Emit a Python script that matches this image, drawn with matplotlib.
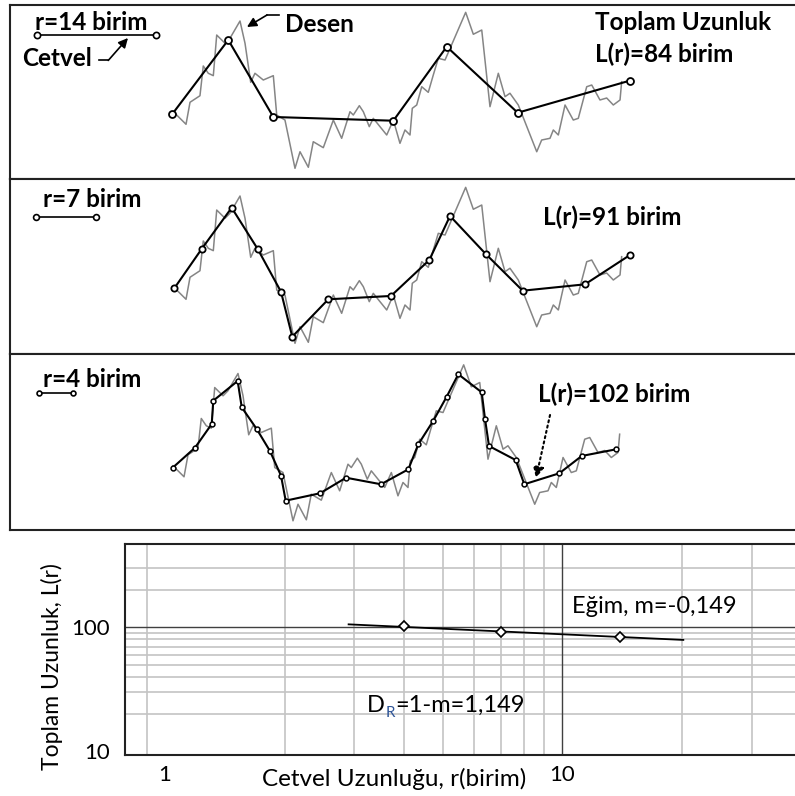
import numpy as np
import matplotlib
matplotlib.use('Agg')
import matplotlib.pyplot as plt

plt.rcParams['font.family'] = ['Lato', 'DejaVu Sans']

# desen (fractal pattern), birim units
desen_x = [0.35, 1.65, 2.12, 3.29, 3.68, 4.27, 4.86, 5.26, 6.24, 6.82, 8.0, 8.59, 9.26, 9.76,
           10.74, 11.92, 12.32, 13.29, 14.47, 15.06, 16.04, 16.62, 17.8, 18.98, 19.96, 20.94,
           21.33, 22.04, 22.51, 23.21, 23.68, 25.26, 26.04, 26.82, 27.41, 28.0, 28.27, 28.79,
           29.38, 30.15, 30.74, 31.33, 32.12, 34.55, 35.45, 36.44, 37.41, 38.39, 39.18, 39.76,
           40.74, 42.91, 43.49, 44.47, 44.86, 45.45, 46.24, 47.21, 47.8, 48.79, 49.38, 50.35,
           51.14, 51.92, 52.71, 52.9]
desen_y = [0.08, -1.21, 1.38, 2.15, 5.65, 4.79, 4.51, 9.29, 8.32, 8.91, 10.94, 8.32, 3.73, 4.79,
           4.0, 4.51, -0.12, -0.71, -6.39, -4.44, -6.27, -3.26, -3.96, -0.71, -2.86, 0.27,
           -0.12, 0.98, 0.27, -1.49, -0.51, -2.47, -0.71, -3.45, -1.88, -2.47, 0.67, 1.06,
           3.21, 2.55, 4.59, 6.55, 6.35, 11.96, 9.38, 9.88, 0.86, 4.79, 2.04, 2.44,
           1.06, -4.44, -3.06, -2.86, -1.88, -2.47, 1.06, -0.71, -0.51, 3.21, 3.41, 1.65,
           1.88, 1.06, 1.65, 3.8]

# cetvel steps for each ruler length
c14_x = [0.04, 6.62, 11.92, 26.04, 32.32, 40.67, 53.85]
c14_y = [0.0, 8.71, -0.35, -0.79, 7.92, 0.15, 3.92]
c7_x = [0.27, 3.49, 7.02, 10.08, 12.82, 14.15, 18.39, 25.76, 30.27, 32.71, 36.91, 41.26, 48.59, 53.88]
c7_y = [0.08, 4.71, 9.56, 4.71, -0.32, -5.61, -1.21, -0.82, 3.41, 8.59, 4.12, -0.2, 0.55, 4.0]
c4_x = [0.32, 2.94, 4.91, 5.09, 7.96, 8.44, 10.2, 11.76, 13.06, 13.61, 17.65, 20.71, 24.82,
        28.04, 29.21, 30.98, 32.55, 33.92, 36.67, 37.06, 37.53, 40.67, 41.68, 45.8, 48.44, 52.47]
c4_y = [-0.14, 2.21, 5.0, 7.74, 10.06, 6.96, 4.41, 1.82, -1.08, -4.02, -3.15, -1.32, -2.09,
        -0.33, 2.61, 5.39, 8.21, 10.85, 8.73, 5.59, 2.41, 0.76, -2.09, -0.8, 1.24, 2.02]

r_vals = [4, 7, 14]
L_vals = [102, 91, 84]
egim = -0.149

W, H = 795, 796
U = 8.5
fig = plt.figure(figsize=(W / 100, H / 100), dpi=100)


def rect(left, top, right, bottom):
    return [left / W, 1 - bottom / H, (right - left) / W, (bottom - top) / H]


def panel(top, bottom, ox, oy):
    ax = fig.add_axes(rect(10, top, 795, bottom))
    ax.set_xlim((10 - ox) / U, (795 - ox) / U)
    ax.set_ylim((oy - bottom) / U, (oy - top) / U)
    ax.set_xticks([])
    ax.set_yticks([])
    ax.spines['right'].set_visible(False)
    for s in ['top', 'left', 'bottom']:
        ax.spines[s].set_linewidth(1.5)
        ax.spines[s].set_color('#222222')
    ax.plot(desen_x, desen_y, color='#858585', lw=1.1, zorder=2)
    return ax


def ruler(ax, x0, y0, r, ms):
    ax.plot([x0, x0 + r], [y0, y0], color='black', lw=1.2, marker='o', ms=ms,
            mfc='white', mec='black', mew=1.2)


bold = dict(fontsize=17.5, fontweight='bold', va='baseline')

# panel 1: r = 14
ax1 = panel(5, 179, 172, 114)
ax1.plot(c14_x, c14_y, color='black', lw=1.5, marker='o', ms=5, mfc='white', mec='black',
         mew=1.3, zorder=3)
ruler(ax1, -15.9, 9.29, r_vals[2], 4.5)
ax1.text(-16.1, 9.88, 'r=14 birim', **bold)
ax1.text(-17.6, 5.65, 'Cetvel', **bold)
ax1.plot([-8.6, -7.5], [6.3, 6.3], color='black', lw=1.2)
ax1.annotate('', xy=(-5.18, 8.94), xytext=(-7.5, 6.3),
             arrowprops=dict(arrowstyle='-|>', color='black', lw=1.2, mutation_scale=14,
                             shrinkA=0, shrinkB=0))
ax1.text(13.29, 9.65, 'Desen', **bold)
ax1.plot([12.6, 11.18], [11.65, 11.65], color='black', lw=1.2)
ax1.annotate('', xy=(8.82, 10.24), xytext=(11.18, 11.65),
             arrowprops=dict(arrowstyle='-|>', color='black', lw=1.2, mutation_scale=14,
                             shrinkA=0, shrinkB=0))
ax1.text(49.76, 9.88, 'Toplam Uzunluk', **bold)
ax1.text(49.76, 6.12, 'L(r)=84 birim', **bold)

# panel 2: r = 7
ax2 = panel(179, 354, 172, 289)
ax2.plot(c7_x, c7_y, color='black', lw=1.5, marker='o', ms=4.5, mfc='white', mec='black',
         mew=1.3, zorder=3)
ruler(ax2, -16.0, 8.47, r_vals[1], 4.2)
ax2.text(-15.18, 9.65, 'r=7 birim', **bold)
ax2.text(43.65, 7.53, 'L(r)=91 birim', **bold)

# panel 3: r = 4
ax3 = panel(354, 530, 170, 466.5)
ax3.plot(c4_x, c4_y, color='black', lw=1.5, marker='o', ms=3.5, mfc='white', mec='black',
         mew=1.1, zorder=3)
ruler(ax3, -15.4, 8.65, r_vals[0], 3.5)
ax3.text(-14.94, 9.35, 'r=4 birim', **bold)
ax3.text(43.29, 7.59, 'L(r)=102 birim', **bold)
ax3.annotate('', xy=(43.06, -1.35), xytext=(44.71, 6.06),
             arrowprops=dict(arrowstyle='-|>', color='black', lw=1.5, ls=(0, (1, 1.6)),
                             mutation_scale=16, shrinkA=0, shrinkB=0))

# log-log plot
ax = fig.add_axes(rect(125, 544, 795, 755))
ax.set_xscale('log')
ax.set_yscale('log')
ax.set_xlim(0.793, 38.6)
ax.set_ylim(9.33, 470)
light = '#c4c4c4'
for xv in [0.9, 2, 3, 4, 5, 6, 7, 8, 9, 20, 30]:
    ax.axvline(xv, color=light, lw=1.2, zorder=0)
for yv in [20, 30, 40, 50, 60, 70, 80, 90, 200, 300]:
    ax.axhline(yv, color=light, lw=1.2, zorder=0)
ax.axvline(10, color='#404040', lw=1.0, zorder=1)
ax.axhline(100, color='#404040', lw=1.0, zorder=1)
ax.set_xticks([1, 10], ['1', '10'])
ax.set_yticks([10, 100], ['10', '100'])
ax.minorticks_off()
ax.tick_params(axis='both', length=0, labelsize=16)
ax.tick_params(axis='x', pad=7)
ax.tick_params(axis='y', pad=11)
ax.spines['right'].set_visible(False)
for s in ['top', 'left', 'bottom']:
    ax.spines[s].set_linewidth(1.5)
    ax.spines[s].set_color('#222222')

# fitted line with slope m
logr = np.log10(r_vals)
logL = np.log10(L_vals)
c = np.mean(logL - egim * logr)
r_fit = np.array([2.9, 20.2])
ax.plot(r_fit, 10 ** (c + egim * np.log10(r_fit)), color='black', lw=1.3, zorder=3)
ax.plot(r_vals, L_vals, ls='none', marker='D', ms=5.5, mfc='white', mec='black', mew=1.2,
        zorder=4)

ax.text(10.6, 130.4, 'Eğim, m=-0,149', fontsize=17, va='baseline')
tD = ax.text(3.23, 20.7, 'D', fontsize=17, va='baseline')
tR = ax.annotate('R', xy=(1, 0), xycoords=tD, xytext=(0.3, -3), textcoords='offset points',
                 fontsize=11, color='#2f5597', va='bottom', ha='left')
ax.annotate('=1-m=1,149', xy=(1, 0), xycoords=(tR, tD), fontsize=17, va='bottom', ha='left')

fig.text(52 / W, 1 - 667 / H, 'Toplam Uzunluk, L(r)', rotation=90, fontsize=16.5,
         ha='center', va='center')
fig.text(394 / W, 1 - 779 / H, 'Cetvel Uzunluğu, r(birim)', fontsize=17.5,
         ha='center', va='center')

fig.savefig('out.png', dpi=100, facecolor='white')
